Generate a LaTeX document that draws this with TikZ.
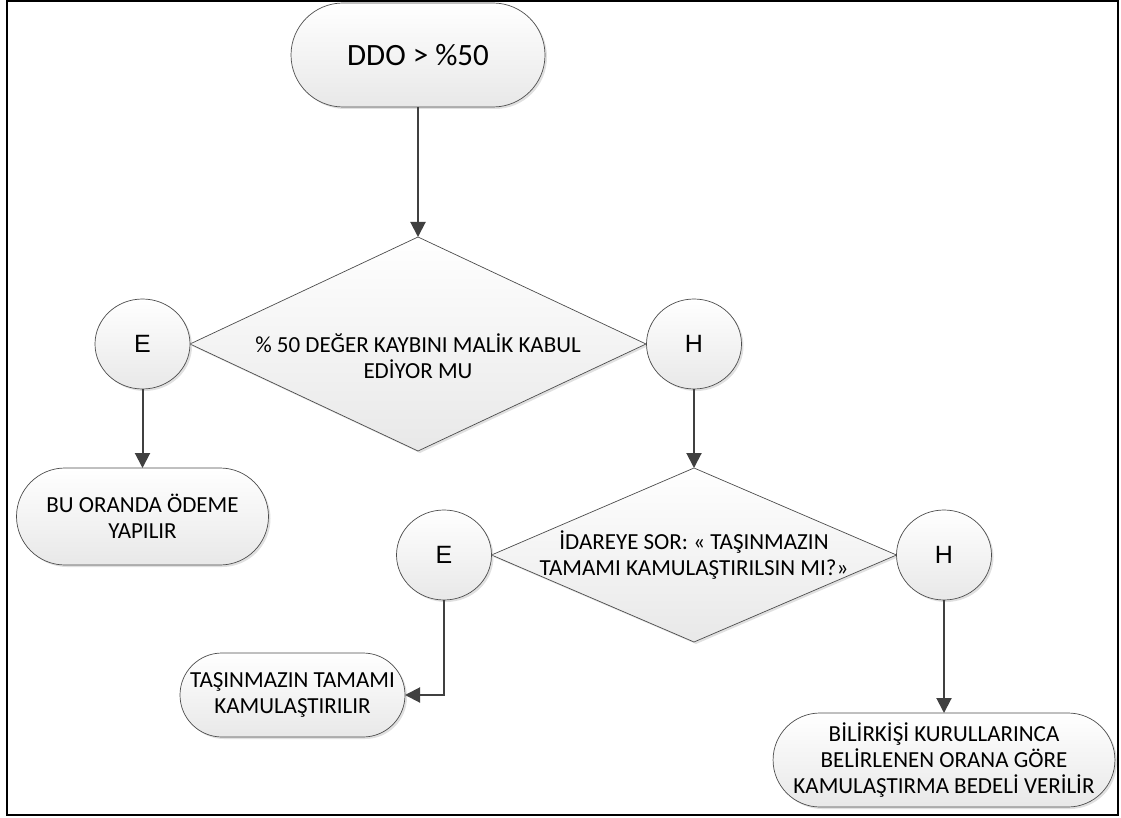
\documentclass[tikz,border=0pt]{standalone}
\usepackage{fontspec}
\setmainfont{Carlito}
\newfontfamily\markfont{Liberation Sans}
\usetikzlibrary{positioning,arrows.meta,shapes.geometric,shapes.misc,shadows}

\begin{document}
\begin{tikzpicture}[
		x=1pt, y=-1pt,
		shp/.style={draw=black!70, line width=0.7pt, top color=white, bottom color=black!9,
				drop shadow={shadow xshift=2pt, shadow yshift=-2pt, fill=black!30, opacity=0.4},
				outer sep=0pt, align=center},
		term/.style={shp, rounded rectangle, inner sep=2pt,
				font=\fontsize{23}{26}\selectfont},
		decision/.style={shp, diamond, inner xsep=-10pt, inner ysep=0pt,
				font=\fontsize{23}{26}\selectfont},
		answer/.style={shp, ellipse, minimum width=95pt, minimum height=90pt,
				font=\markfont\fontsize{25}{28}\selectfont},
		ar/.style={-{Triangle[length=15pt,width=15pt]}, line width=2pt, draw=black!75},
	]
	\useasboundingbox (0,0) rectangle (1121,818);
	\draw[line width=2pt] (7,1) rectangle (1118,815);
	\node[term, minimum width=258pt, minimum height=104pt,
		font=\fontsize{31}{36}\selectfont] (start) at (418,55) {DDO > \%50};
	\node[decision, aspect=2.13, minimum width=456pt, minimum height=214pt]
	(q1) at (418,344) {};
	\node[align=center, font=\fontsize{23}{26}\selectfont] (q1text)
	at ([yshift=-12pt]q1.center) {\% 50 DEĞER KAYBINI MALİK KABUL\\EDİYOR MU};
	\node[answer] (e1) at (142.5,344) {E};
	\node[answer] (h1) at (694,344) {H};
	\draw[ar] (start.south) -- (q1.north);
	\node[term, minimum width=256pt, minimum height=97pt] (pay) at (142.5,516.5)
	{BU ORANDA ÖDEME\\YAPILIR};
	\draw[ar] (e1.south) -- (pay.north);
	\node[decision, aspect=2.33, minimum width=405pt, minimum height=174pt]
	(q2) at (694,555) {İDAREYE SOR: « TAŞINMAZIN\\TAMAMI KAMULAŞTIRILSIN MI?»};
	\node[answer] (e2) at (444,555) {E};
	\node[answer] (h2) at (944,555) {H};
	\draw[ar] (h1.south) -- (q2.north);
	\node[term, minimum width=229pt, minimum height=84pt] (whole) at (292.5,695)
	{TAŞINMAZIN TAMAMI\\KAMULAŞTIRILIR};
	\node[term, minimum width=336pt, minimum height=94pt] (expert) at (944,760)
	{BİLİRKİŞİ KURULLARINCA\\BELİRLENEN ORANA GÖRE\\KAMULAŞTIRMA BEDELİ VERİLİR};
	\draw[ar] (e2.south) |- (whole.east);
	\draw[ar] (h2.south) -- (expert.north);
\end{tikzpicture}
\end{document}
